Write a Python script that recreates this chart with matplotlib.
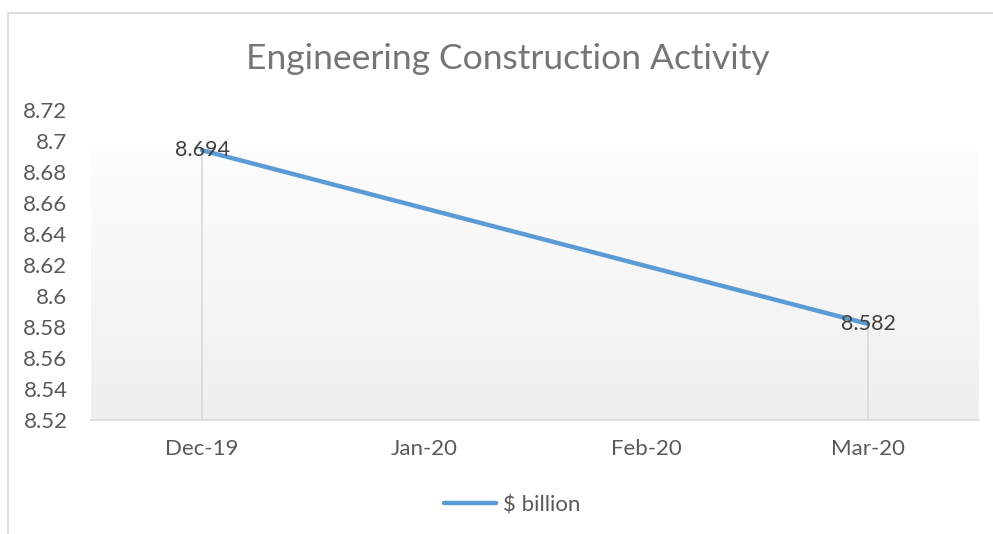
import matplotlib

matplotlib.use("Agg")
import matplotlib.pyplot as plt
import numpy as np
from matplotlib.patches import Rectangle

months = ["Dec-19", "Jan-20", "Feb-20", "Mar-20"]
values = [8.694, np.nan, np.nan, 8.582]
series_name = "$ billion"
title = "Engineering Construction Activity"
y_ticks = [8.52, 8.54, 8.56, 8.58, 8.6, 8.62, 8.64, 8.66, 8.68, 8.7, 8.72]

plt.rcParams["font.family"] = ["Lato", "DejaVu Sans"]
W, H = 993, 534
fig = plt.figure(figsize=(W / 100, H / 100), dpi=100)

# chart border (cropped on the right and bottom in the reference)
fig.patches.append(Rectangle((8 / W, -0.1), 1.2, 1 - 13 / H + 0.1, transform=fig.transFigure,
                             fill=False, edgecolor="#d9d9d9", linewidth=1.2))

ax = fig.add_axes([91 / W, 1 - 420 / H, (979 - 91) / W, (420 - 110) / H])
x = np.arange(len(months))
y = np.asarray(values, dtype=float)
ok = np.isfinite(y)

ax.set_xlim(-0.5, len(months) - 0.5)
ax.set_ylim(8.52, 8.72)

# gradient plot-area fill: light grey at the bottom fading to near white at the top
fill_top = np.nanmax(y)
grad = np.linspace(0.0, 1.0, 256).reshape(-1, 1)
cmap = matplotlib.colors.LinearSegmentedColormap.from_list("g", ["#efefef", "#fdfdfd"])
ax.imshow(grad, extent=[-0.5, len(months) - 0.5, 8.52, fill_top], aspect="auto",
          cmap=cmap, origin="lower", zorder=0)
ax.set_ylim(8.52, 8.72)

ax.vlines(x[ok], 8.52, y[ok], color="#d9d9d9", linewidth=1.2, zorder=1)
ax.plot(x[ok], y[ok], color="#5b9bd5", linewidth=3.2, solid_capstyle="round", zorder=3, label=series_name)
for xi, yi in zip(x[ok], y[ok]):
    ax.text(xi, yi, f"{yi:g}", ha="center", va="center", fontsize=15.5, color="#404040", zorder=4)

ax.set_xticks(x)
ax.set_xticklabels(months)
ax.set_yticks(y_ticks)
ax.set_yticklabels([f"{t:g}" for t in y_ticks])
ax.tick_params(axis="both", length=0, labelsize=16, labelcolor="#595959")
ax.tick_params(axis="x", pad=14)
ax.tick_params(axis="y", pad=17)
for side in ["top", "right", "left"]:
    ax.spines[side].set_visible(False)
ax.spines["bottom"].set_color("#d9d9d9")
ax.spines["bottom"].set_linewidth(1.2)

fig.text(508 / W, 1 - 59 / H, title, ha="center", va="center", fontsize=25.5, color="#757575")
fig.legend(loc="center", bbox_to_anchor=(512 / W, 1 - 505 / H), frameon=False, fontsize=16,
           labelcolor="#595959", handlelength=2.35, handletextpad=0.3)

fig.savefig("out.png", dpi=100)
